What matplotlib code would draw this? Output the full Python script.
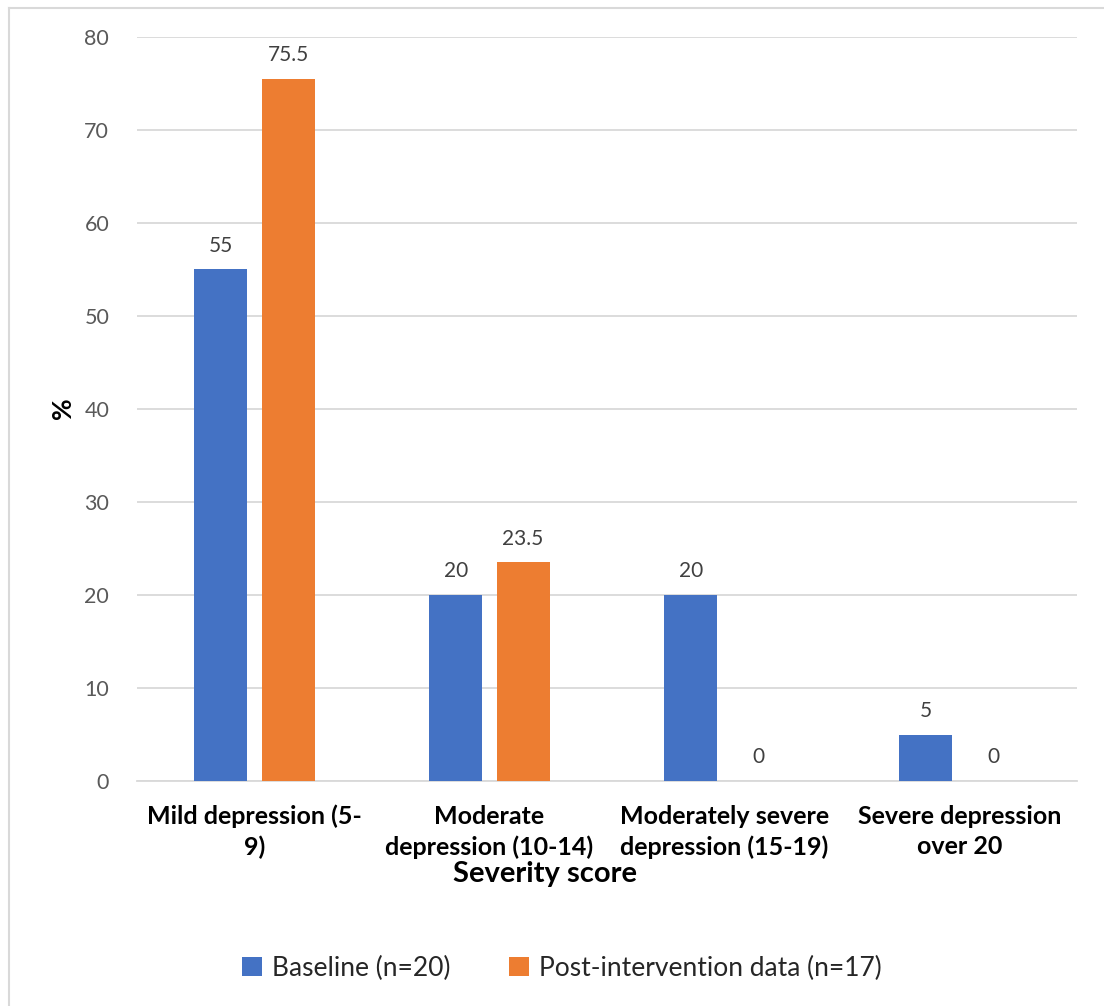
import numpy as np
import matplotlib
matplotlib.use("Agg")
import matplotlib.pyplot as plt
from matplotlib.patches import Patch
from matplotlib.lines import Line2D

plt.rcParams['font.family'] = ['Lato', 'DejaVu Sans']

categories = ["Mild depression (5-\n9)", "Moderate\ndepression (10-14)",
              "Moderately severe\ndepression (15-19)", "Severe depression\nover 20"]
baseline = [55, 20, 20, 5]
post_intervention = [75.5, 23.5, 0, 0]
series_names = ["Baseline (n=20)", "Post-intervention data (n=17)"]
y_ticks = [0, 10, 20, 30, 40, 50, 60, 70, 80]

BLUE = "#4472C4"
ORANGE = "#ED7D31"
GRID = "#D9D9D9"

fig = plt.figure(figsize=(11.04, 10.06), dpi=100)
ax = fig.add_axes([137 / 1104, 225 / 1006, 940 / 1104, 744 / 1006])

x = np.arange(len(categories))
width = 0.2255
offset = 0.1426
b1 = ax.bar(x - offset, baseline, width, color=BLUE, zorder=3)
b2 = ax.bar(x + offset, post_intervention, width, color=ORANGE, zorder=3)

for bars, vals in ((b1, baseline), (b2, post_intervention)):
    for rect, v in zip(bars, vals):
        ax.annotate(f"{v:g}", (rect.get_x() + rect.get_width() / 2, v),
                    xytext=(0, 10), textcoords="offset points",
                    ha="center", va="bottom", fontsize=15, color="#404040")

ax.set_xlim(-0.5, len(categories) - 0.5)
ax.set_ylim(0, 80)
ax.set_yticks(y_ticks)
ax.yaxis.grid(True, color=GRID, linewidth=1.3, zorder=0)
ax.set_axisbelow(True)
for s in ("top", "right", "left"):
    ax.spines[s].set_visible(False)
ax.spines["bottom"].set_color(GRID)
ax.spines["bottom"].set_linewidth(1.3)
ax.tick_params(axis="y", length=0, pad=20, labelsize=15.5, labelcolor="#595959")
ax.tick_params(axis="x", length=0, pad=17)
ax.set_xticks(x)
ax.set_xticklabels(categories, fontsize=18, fontweight="bold", color="black",
                   linespacing=1.4)

fig.text(545 / 1104, 1 - 874 / 1006, "Severity score", ha="center", va="center",
         fontsize=21, fontweight="bold", color="black")
fig.text(63 / 1104, 1 - 408 / 1006, "%", ha="center", va="center", rotation=90,
         fontsize=19, fontweight="bold", color="black")

handles = [Patch(facecolor=BLUE), Patch(facecolor=ORANGE)]
fig.legend(handles, series_names, loc="center", bbox_to_anchor=(562 / 1104, 1 - 968 / 1006),
           ncol=2, frameon=False, fontsize=19, handlelength=0.75, handleheight=0.75,
           handletextpad=0.4, columnspacing=2.2, labelcolor="#262626")

# chart frame (top and left edges visible)
fig.add_artist(Line2D([8.5 / 1104, 8.5 / 1104], [0, 1 - 7.5 / 1006], color=GRID,
                      linewidth=1.5, transform=fig.transFigure))
fig.add_artist(Line2D([8.5 / 1104, 1], [1 - 7.5 / 1006, 1 - 7.5 / 1006], color=GRID,
                      linewidth=1.5, transform=fig.transFigure))

fig.savefig("out.png", dpi=100, facecolor="white")
